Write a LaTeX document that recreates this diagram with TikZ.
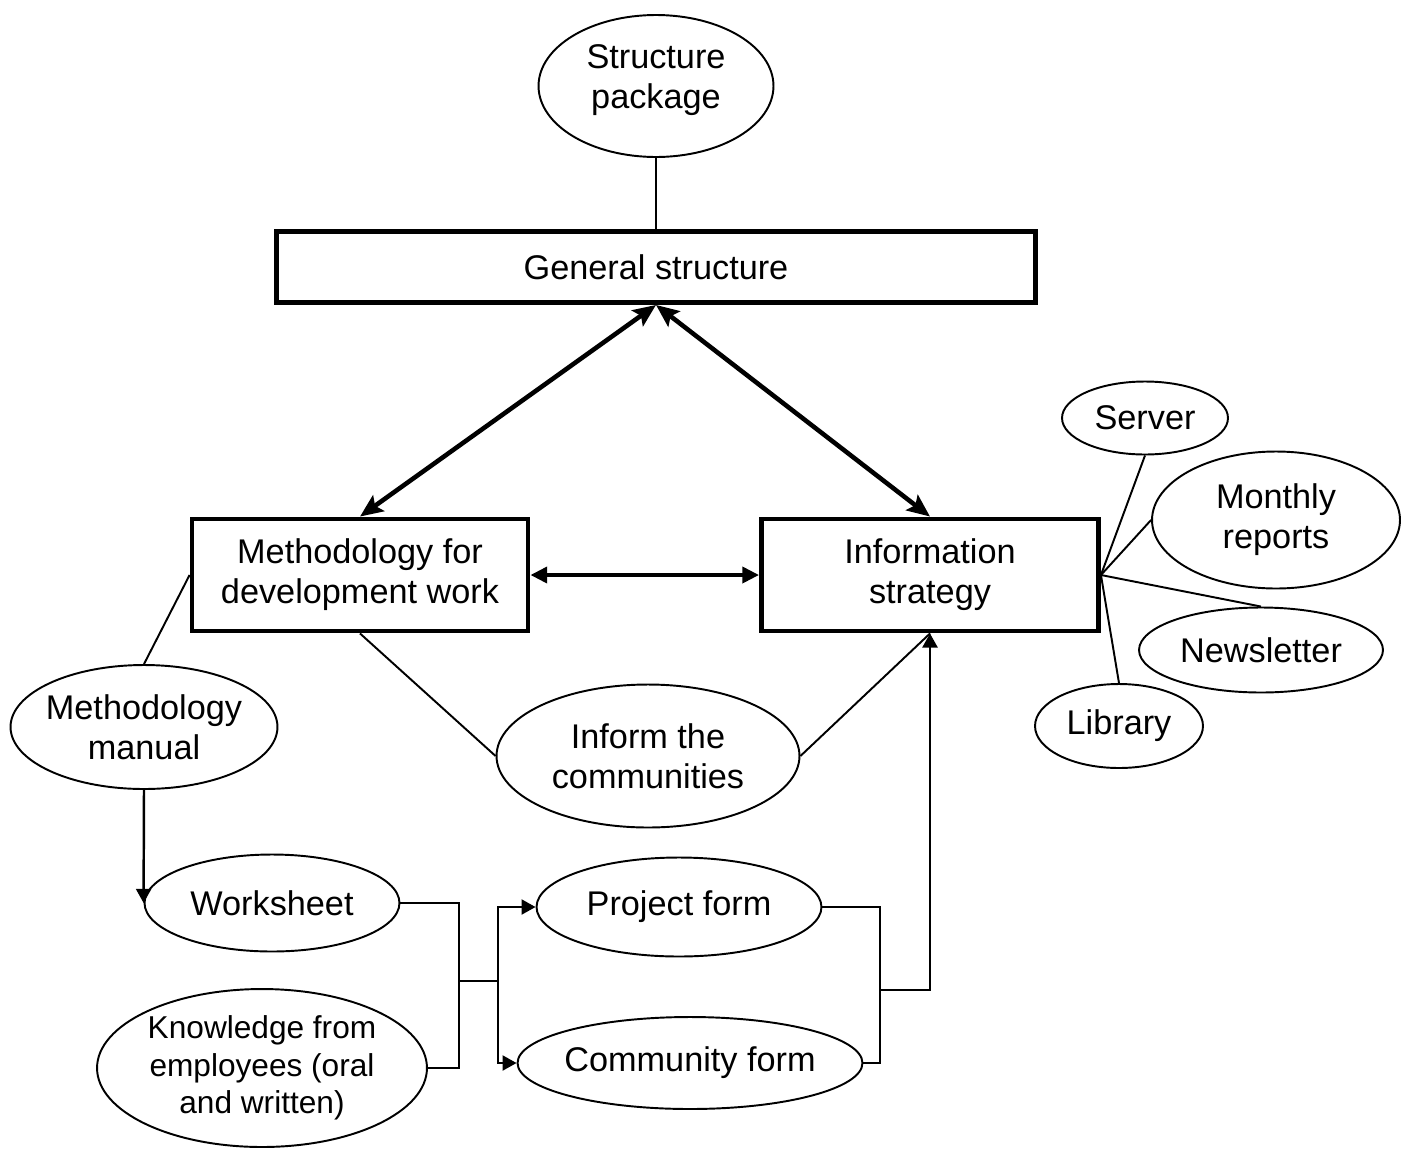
\documentclass[tikz,border=0pt]{standalone}
\usepackage{fontspec}
\setmainfont{Liberation Sans}
\usetikzlibrary{shapes.geometric,arrows.meta}

\begin{document}
\begin{tikzpicture}[x=0.02cm, y=-0.02cm,
    every node/.style={font=\fontsize{19.5}{22.7}\selectfont, align=center},
    box/.style={draw, line width=2.8pt, inner sep=0pt},
    oval/.style={draw, ellipse, line width=1.1pt, inner sep=0pt},
    link/.style={line width=1.1pt},
    wire/.style={line width=1.4pt},
    tip/.style={-{Triangle[length=8pt,width=8.5pt]}},
    twoway/.style={line width=2.6pt,
      {Stealth[length=13pt,width=11pt,inset=2.5pt]}-{Stealth[length=13pt,width=11pt,inset=2.5pt]}}]
  \useasboundingbox (0,0) rectangle (1409,1153);

  % main boxes
  \node[box, minimum width=15.18cm, minimum height=1.42cm] (gs) at (656,267) {General structure};
  \node[box, minimum width=6.72cm, minimum height=2.24cm] (mt) at (360,575) {Methodology for\\development work};
  \node[box, minimum width=6.74cm, minimum height=2.24cm] (is) at (930,575) {Information\\strategy};

  % ovals
  \node[oval, minimum width=4.7cm, minimum height=2.84cm] (sp) at (656,86) {};
  \node (sp-t) at (656,80) {Structure\\package};
  \node[oval, minimum width=5.34cm, minimum height=2.48cm] (mm) at (144,727) {};
  \node (mm-t) at (mm) {Methodology\\manual};
  \node[oval, minimum width=6.06cm, minimum height=2.86cm] (inf) at (648,756) {};
  \node (inf-t) at (inf) {Inform the\\communities};
  \node[oval, minimum width=5.1cm, minimum height=1.94cm] (ws) at (272,903) {};
  \node (ws-t) at (ws) {Worksheet};
  \node[oval, minimum width=6.6cm, minimum height=3.16cm] (kn) at (262,1068) {};
  \node[font=\fontsize{18}{21.5}\selectfont] (kn-t) at (kn) {Knowledge from\\employees (oral\\and written)};
  \node[oval, minimum width=5.7cm, minimum height=1.98cm] (pf) at (679,907) {};
  \node (pf-t) at (pf) {Project form};
  \node[oval, minimum width=6.9cm, minimum height=1.84cm] (cf) at (690,1063) {};
  \node (cf-t) at (cf) {Community form};

  % around the information strategy
  \node[oval, minimum width=3.32cm, minimum height=1.46cm] (srv) at (1145,418) {};
  \node (srv-t) at (srv) {Server};
  \node[oval, minimum width=4.96cm, minimum height=2.74cm] (mr) at (1276,520) {};
  \node (mr-t) at (mr) {Monthly\\reports};
  \node[oval, minimum width=4.88cm, minimum height=1.7cm] (nl) at (1261,650) {};
  \node (nl-t) at (nl) {Newsletter};
  \node[oval, minimum width=3.36cm, minimum height=1.68cm] (lib) at (1119,726) {};
  \node (lib-t) at (lib) {Library};

  \foreach \t in {srv.south, mr.west, nl.north, lib.north}{
    \draw[link] (is.east) -- (\t);
  }

  % top part
  \draw[link] (sp.south) -- (gs.north);
  \draw[twoway] (mt.north) -- (gs.south);
  \draw[twoway] (gs.south) -- (is.north);
  \draw[line width=2.3pt, {Triangle[length=9.5pt,width=9pt]}-{Triangle[length=9.5pt,width=9pt]}] (mt.east) -- (is.west);

  \draw[link] (mt.west) -- (mm.north);
  \draw[link] (mt.south) -- (inf.west);
  \draw[link] (inf.east) -- (is.south);

  % forms
  \coordinate (jl) at (459,981);
  \coordinate (jr) at (498,981);
  \coordinate (jf) at (880,990);
  \draw[wire, tip] (mm.south) -- (ws.west);
  \draw[wire] (ws.east) -| (jl) |- (kn.east);
  \draw[wire] (jl) -- (jr);
  \draw[wire, tip] (jr) |- (pf.west);
  \draw[wire, tip] (jr) |- (cf.west);
  \draw[wire] (pf.east) -| (jf) |- (cf.east);
  \draw[wire, tip] (jf) -| (is.south);
\end{tikzpicture}
\end{document}
